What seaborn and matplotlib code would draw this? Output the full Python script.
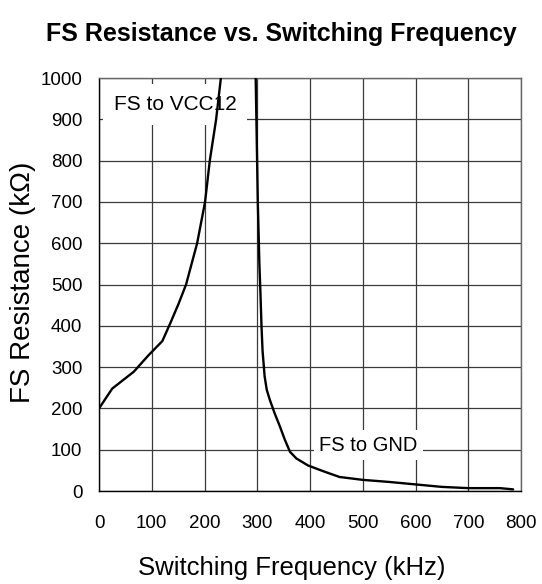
import matplotlib

matplotlib.use("Agg")
import matplotlib.pyplot as plt
import pandas as pd
import seaborn as sns

# FS pin to VCC12 (kHz, kOhm)
vcc_freq = [0, 25, 66, 94, 120, 135, 151, 165, 186, 201, 210, 222, 231]
vcc_res = [200, 248, 289, 329, 363, 406, 454, 500, 600, 700, 800, 900, 1000]

# FS pin to GND (kHz, kOhm)
gnd_freq = [297, 299, 301, 304, 306, 308, 310, 314, 318, 324, 333, 343, 352,
            362, 374, 396, 425, 456, 500, 550, 600, 650, 700, 760, 785]
gnd_res = [1000, 850, 700, 550, 480, 400, 340, 277, 245, 220, 188, 156, 125,
           95, 79, 62, 48, 34, 27, 22, 16, 10, 7, 7, 4]

x_ticks = list(range(0, 801, 100))
y_ticks = list(range(0, 1001, 100))

sns.set_theme(style="white")
plt.rcParams["font.family"] = ["Liberation Sans", "DejaVu Sans"]
plt.rcParams.update({"text.color": "black", "axes.labelcolor": "black",
                     "xtick.color": "black", "ytick.color": "black"})

vcc = pd.DataFrame({"freq": vcc_freq, "res": vcc_res})
gnd = pd.DataFrame({"freq": gnd_freq, "res": gnd_res})

fig = plt.figure(figsize=(5.42, 5.84), dpi=100)
ax = fig.add_axes([0.1827, 0.1592, 0.7786, 0.7072])

sns.lineplot(data=vcc, x="freq", y="res", color="black", linewidth=1.7,
             sort=False, ax=ax, zorder=3)
sns.lineplot(data=gnd, x="freq", y="res", color="black", linewidth=1.7,
             sort=False, ax=ax, zorder=3)

ax.set_xlim(0, 800)
ax.set_ylim(0, 1000)
ax.set_xticks(x_ticks)
ax.set_yticks(y_ticks)
ax.grid(True, color="#3a3a3a", linewidth=0.9)
ax.set_axisbelow(True)
for side, spine in ax.spines.items():
    spine.set_linewidth(1.0)
    spine.set_color("black" if side in ("left", "bottom") else "#666666")
ax.tick_params(axis="both", labelsize=13.5, length=0, colors="black")
ax.tick_params(axis="x", pad=17)
ax.tick_params(axis="y", pad=12)
ax.set_xlabel("")
ax.set_ylabel("")

ax.text(144, 937, "FS to VCC12", fontsize=15, ha="center", va="center",
        zorder=2, bbox=dict(facecolor="white", edgecolor="none", pad=8))
ax.text(511, 111, "FS to GND", fontsize=14.5, ha="center", va="center",
        zorder=2, bbox=dict(facecolor="white", edgecolor="none", pad=4))

fig.text(0.519, 0.942, "FS Resistance vs. Switching Frequency", fontsize=18,
         fontweight="bold", ha="center", va="center")
fig.text(0.539, 0.027, "Switching Frequency (kHz)", fontsize=18.5,
         ha="center", va="center")
fig.text(0.042, 0.517, "FS Resistance (k\u03a9)", fontsize=20, rotation=90,
         ha="center", va="center")

fig.savefig("out.png", dpi=100)
plt.close(fig)
